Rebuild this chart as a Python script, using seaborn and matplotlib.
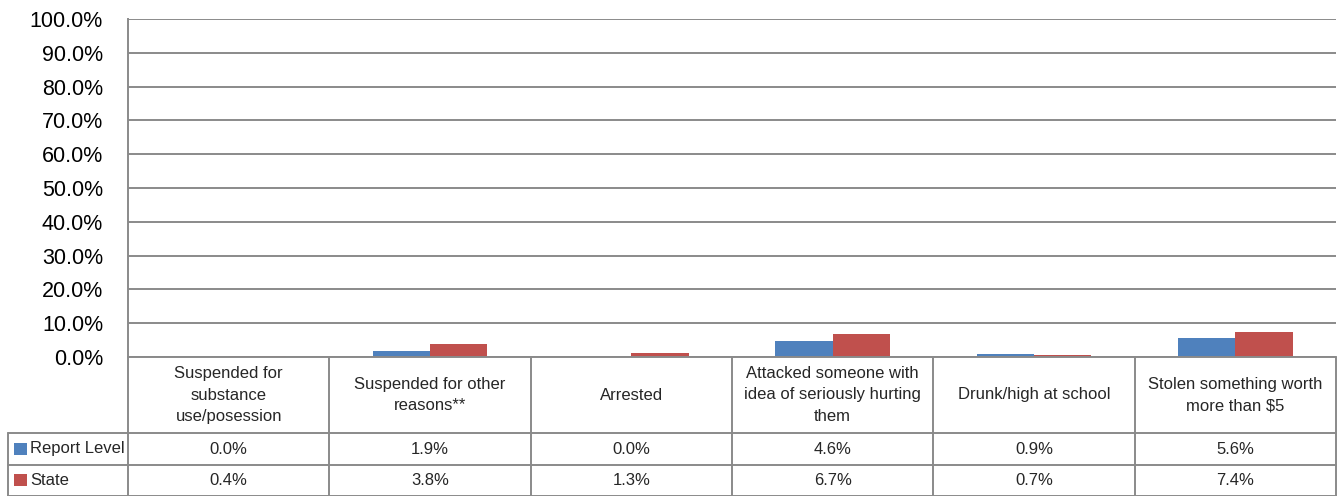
import numpy as np
import pandas as pd
import matplotlib.pyplot as plt
from matplotlib.patches import Rectangle
import seaborn as sns

categories = ['Suspended for\nsubstance\nuse/posession',
              'Suspended for other\nreasons**',
              'Arrested',
              'Attacked someone with\nidea of seriously hurting\nthem',
              'Drunk/high at school',
              'Stolen something worth\nmore than $5']
series = ['Report Level', 'State']
report_level = [0.0, 1.9, 0.0, 4.6, 0.9, 5.6]
state = [0.4, 3.8, 1.3, 6.7, 0.7, 7.4]
colors = ['#4F81BD', '#C0504D']
yticks = np.arange(0, 101, 10)

df = pd.DataFrame({
    'category': categories * 2,
    'series': [series[0]] * 6 + [series[1]] * 6,
    'value': report_level + state,
})

sns.set_theme(style='white')
plt.rcParams['font.family'] = ['Liberation Sans', 'DejaVu Sans']

W, H = 1338, 496
grey = '#8a8a8a'
fig = plt.figure(figsize=(W / 100, H / 100), dpi=100)

# bar area
ax = fig.add_axes([128 / W, (H - 357) / H, (1336 - 128) / W, (357 - 19) / H])
sns.barplot(data=df, x='category', y='value', hue='series', order=categories,
            palette=colors, width=0.57, saturation=1, linewidth=0, legend=False, ax=ax)
ax.set_xlim(-0.5, 5.5)
ax.set_ylim(0, 100)
ax.set_yticks(yticks)
ax.set_yticklabels([f'{v:.1f}%' for v in yticks])
ax.set_xticks([])
ax.set_xlabel('')
ax.set_ylabel('')
ax.yaxis.grid(True, color=grey, linewidth=1.4)
ax.set_axisbelow(True)
ax.tick_params(axis='y', length=0, pad=18, labelsize=15.5, labelcolor='black')
for s in ['top', 'right', 'bottom']:
    ax.spines[s].set_visible(False)
ax.spines['left'].set_color(grey)
ax.spines['left'].set_linewidth(1.4)

# data table below
col_w = (1336 - 128) / 6
x_left = -0.5 - (128 - 8) / col_w
tax = fig.add_axes([8 / W, 0, (1336 - 8) / W, (H - 357) / H])
tax.set_xlim(x_left, 5.5)
tax.set_ylim(139, 0)
tax.axis('off')

rows = [0, 76, 108, 138.5]
kw = dict(color=grey, linewidth=1.4, clip_on=False)
tax.plot([-0.5, 5.5], [rows[0], rows[0]], **kw)
for y in rows[1:]:
    tax.plot([x_left, 5.5], [y, y], **kw)
for i in range(7):
    tax.plot([-0.5 + i, -0.5 + i], [0, 139], **kw)
tax.plot([x_left, x_left], [rows[1], 139], **kw)

for i, c in enumerate(categories):
    tax.text(i, rows[1] / 2, c, ha='center', va='center', fontsize=12, linespacing=1.58)

for r, (name, vals) in enumerate(zip(series, [report_level, state])):
    yc = (rows[r + 1] + rows[r + 2]) / 2
    tax.add_patch(Rectangle((x_left + 6 / col_w, yc - 6), 13 / col_w, 12,
                            facecolor=colors[r], edgecolor='none', clip_on=False))
    tax.text(x_left + 22 / col_w, yc, name, ha='left', va='center', fontsize=12)
    for i, v in enumerate(vals):
        tax.text(i, yc, f'{v:.1f}%', ha='center', va='center', fontsize=12)

fig.savefig('out.png', dpi=100)
